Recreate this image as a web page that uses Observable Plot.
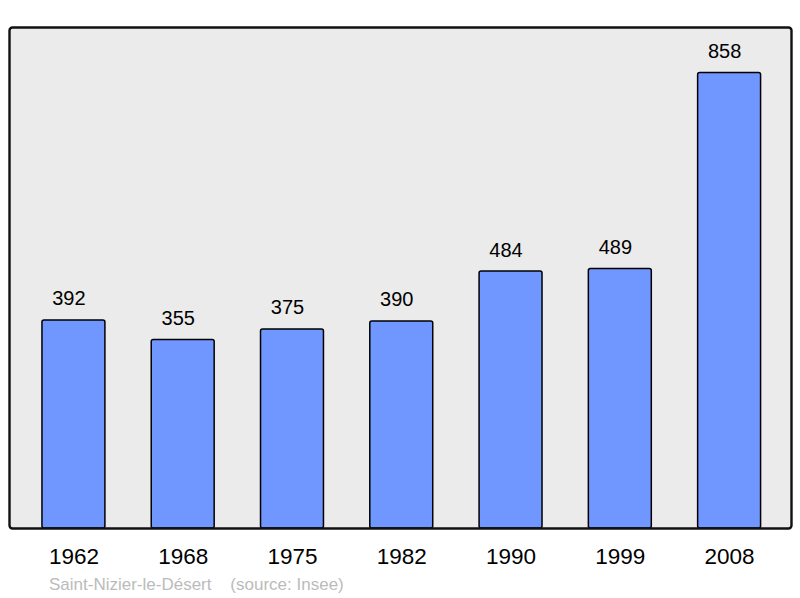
<!DOCTYPE html>
<html>
<head>
<meta charset="utf-8">
<script src="https://cdn.jsdelivr.net/npm/d3@7"></script>
<script src="https://cdn.jsdelivr.net/npm/@observablehq/plot@0.6"></script>
<style>
  html, body { margin: 0; padding: 0; background: #fff; }
  #caption { font-family: "Liberation Sans", Arial, sans-serif; font-size: 17px; color: #bbbbbb; white-space: pre; line-height: 20px; padding-left: 49px; margin-top: 0px; }
</style>
</head>
<body>
<div id="chart"></div>
<div id="caption"></div>
<script>
const years = ["1962", "1968", "1975", "1982", "1990", "1999", "2008"];
const population = [392, 355, 375, 390, 484, 489, 858];
const commune = "Saint-Nizier-le-Désert";
const source = "(source: Insee)";

const data = years.map((y, i) => ({year: y, value: population[i]}));
const yMax = d3.max(population) * 1.1;

const chart = Plot.plot({
  width: 800,
  height: 575,
  marginTop: 27,
  marginBottom: 47,
  marginLeft: 9,
  marginRight: 9,
  style: {fontFamily: "'Liberation Sans', Arial, sans-serif", background: "#fff"},
  x: {domain: years, paddingInner: 0.424, paddingOuter: 0.29, round: false, align: 0.52, label: null},
  y: {domain: [0, yMax], axis: null},
  marks: [
    Plot.frame({fill: "#ebebeb"}),
    Plot.barY(data, {x: "year", y: "value", fill: "#7096ff", stroke: "#000", strokeWidth: 1.5, rx: 2}),
    Plot.frame({stroke: "#111", strokeWidth: 2.4, rx: 3}),
    Plot.text(data, {x: "year", y: "value", text: d => String(d.value), dx: -5, dy: -15, lineAnchor: "bottom", fontSize: 20, fill: "#000"}),
    Plot.axisX({tickSize: 0, tickPadding: 20, fontSize: 22.5, fill: "#000", label: null})
  ]
});
document.getElementById("chart").appendChild(chart);
document.getElementById("caption").textContent = commune + "    " + source;
</script>
</body>
</html>
